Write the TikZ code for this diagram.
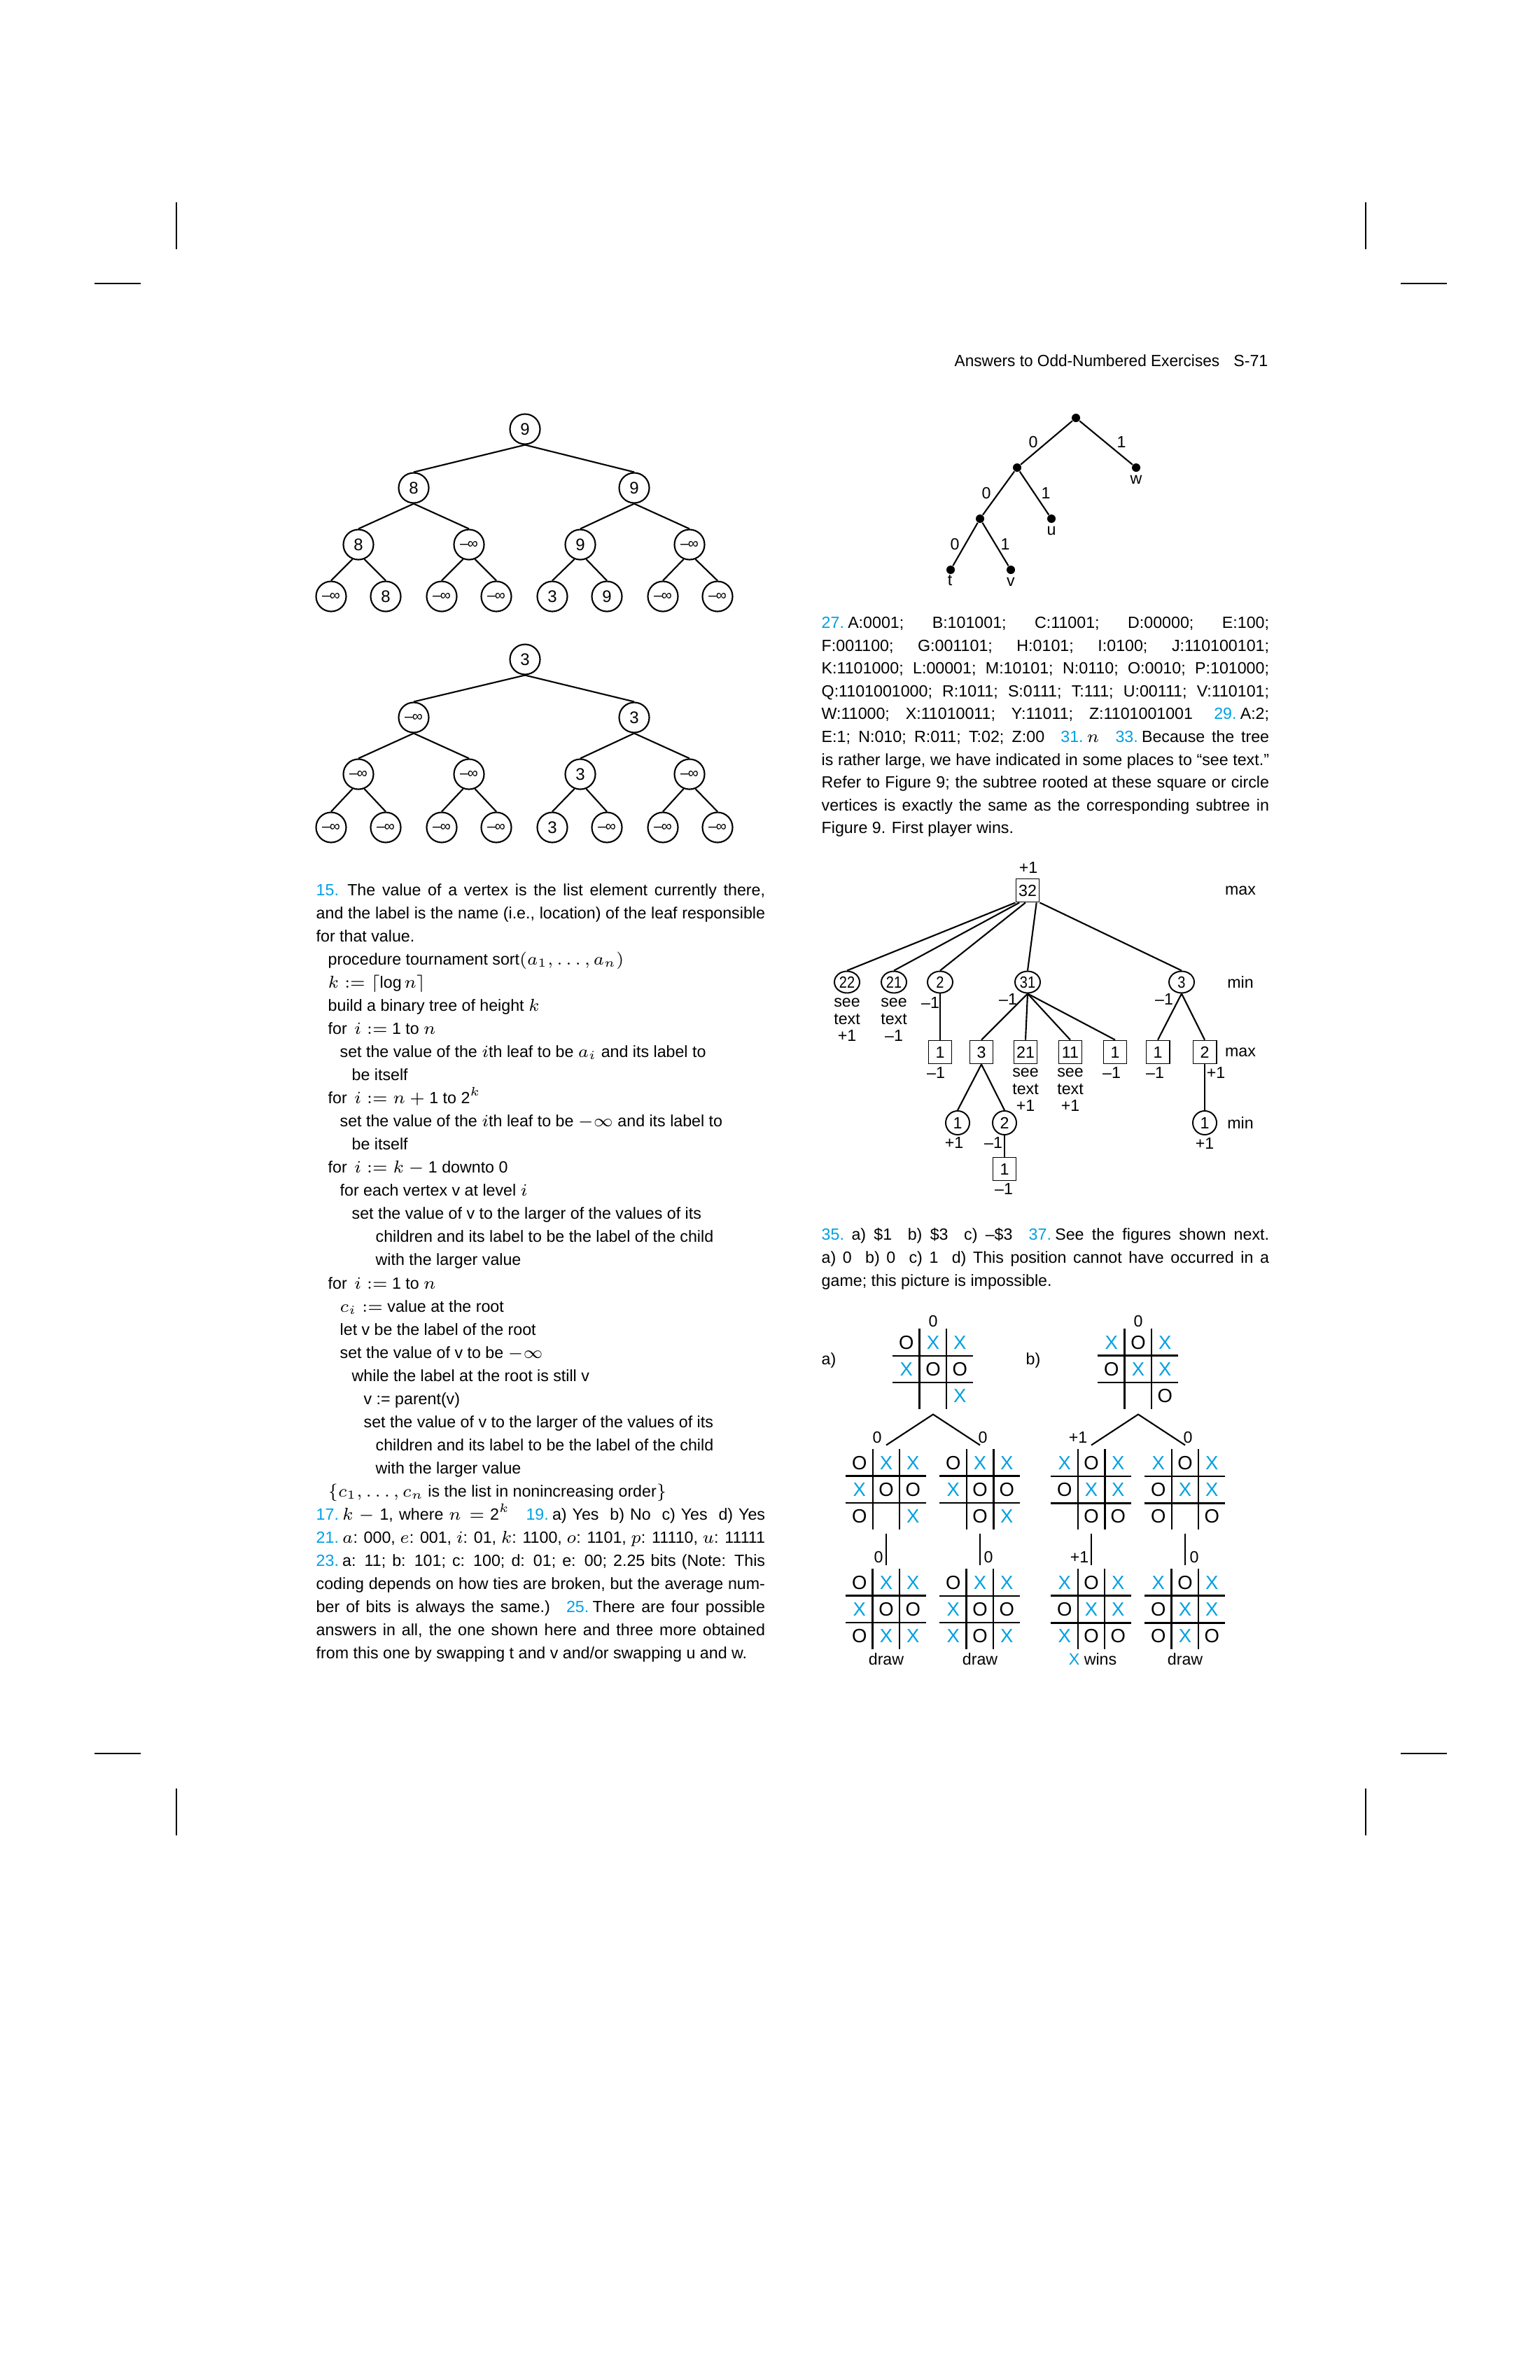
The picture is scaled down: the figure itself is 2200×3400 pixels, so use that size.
\documentclass[tikz,border=0pt]{standalone}
\usepackage{fontspec}
\usepackage{graphicx}
\setmainfont{Liberation Sans}
\usetikzlibrary{calc,shapes.geometric}
\definecolor{exblue}{RGB}{0,160,226}
\newcommand{\txt}{\fontsize{6.6pt}{9.4pt}\selectfont}
\newcommand{\exn}[1]{\textcolor{exblue}{#1}}
\newcommand{\xm}{\textcolor{exblue}{X}}
\newcommand{\ninf}{{\fontsize{6pt}{7pt}\selectfont –\kern-0.04em∞}}
\newcommand{\narrow}[1]{\makebox[0pt]{\scalebox{0.86}[1]{#1}}}
\newcommand{\jlineL}[1]{\makebox[6.41cm][s]{#1}}
\newcommand{\jlineR}[1]{\makebox[6.39cm][s]{#1}}
% board: #1 node, #2 cells, #3 left v, #4 right v, #5 upper h, #6 lower h
\newcommand{\tttboard}[6]{%
  \draw[#3] ($(#1.north west)+(38.3,0)$) -- ++(0,115);
  \draw[#4] ($(#1.north west)+(76.7,0)$) -- ++(0,115);
  \draw[#5] ($(#1.north west)+(0,38.3)$) -- ++(115,0);
  \draw[#6] ($(#1.north west)+(0,76.7)$) -- ++(115,0);
  \foreach \c [count=\i from 0] in {#2} {
    \pgfmathtruncatemacro{\rowi}{\i/3}
    \pgfmathtruncatemacro{\coli}{mod(\i,3)}
    \node[cellmark] (#1-\i) at ($(#1.north west)+(19.2+38.3*\coli,19.2+38.3*\rowi)$) {\c};
  }%
}
\tikzset{
  txtline/.style={anchor=mid west, inner sep=0pt, font=\txt},
  treeline/.style={line width=0.6pt},
  vtx/.style={circle, draw, line width=0.6pt, minimum size=0.43cm, inner sep=0pt, font=\fontsize{6.8pt}{8pt}\selectfont},
  dotnode/.style={circle, fill, minimum size=0.12cm, inner sep=0pt},
  maxbox/.style={rectangle, draw, line width=0.55pt, minimum size=0.33cm, inner sep=0pt, font=\txt},
  minoval/.style={ellipse, draw, line width=0.55pt, minimum width=0.36cm, minimum height=0.31cm, inner sep=0pt, font=\txt},
  minround/.style={circle, draw, line width=0.55pt, minimum size=0.34cm, inner sep=0pt, font=\txt},
  gamelbl/.style={inner sep=0pt, font=\txt},
  seetext/.style={inner sep=0pt, align=center, font=\fontsize{6.6pt}{7pt}\selectfont},
  boardbox/.style={minimum size=1.15cm, inner sep=0pt, outer sep=0pt},
  gridthin/.style={line width=0.5pt},
  gridthick/.style={line width=0.85pt},
  cellmark/.style={inner sep=0pt, font=\fontsize{7.8pt}{9pt}\selectfont},
  cropline/.style={line width=0.4pt}
}
\begin{document}
\begin{tikzpicture}[x=0.01cm,y=-0.01cm]
  \useasboundingbox (0,0) rectangle (2200,3400);
  %crop marks
  \draw[cropline] (252,289) -- (252,356);
  \draw[cropline] (135,405) -- (201,405);
  \draw[cropline] (1951,289) -- (1951,356);
  \draw[cropline] (2001,405) -- (2067,405);
  \draw[cropline] (135,2505) -- (201,2505);
  \draw[cropline] (2001,2505) -- (2067,2505);
  \draw[cropline] (252,2555) -- (252,2622);
  \draw[cropline] (1951,2555) -- (1951,2622);
  %running head
  \node[txtline] (hdr) at (1363,514) {\scalebox{0.975}[1]{Answers to Odd-Numbered Exercises}};
  \node[anchor=mid east, inner sep=0pt, font=\txt] (hdrpg) at (1812,514) {S-71};

  %%%% TOURNAMENT TREE 1
  \node[vtx] (t1r) at (750,613) {9};
  \node[vtx] (t1a) at (591,697) {8};
  \node[vtx] (t1b) at (906,697) {9};
  \node[vtx] (t1aa) at (512,778) {8};
  \node[vtx] (t1ab) at (670,778) {\ninf};
  \node[vtx] (t1ba) at (829,778) {9};
  \node[vtx] (t1bb) at (985,778) {\ninf};
  \node[vtx] (t1l1) at (473,852) {\ninf};
  \node[vtx] (t1l2) at (551,852) {8};
  \node[vtx] (t1l3) at (631,852) {\ninf};
  \node[vtx] (t1l4) at (709,852) {\ninf};
  \node[vtx] (t1l5) at (789,852) {3};
  \node[vtx] (t1l6) at (867,852) {9};
  \node[vtx] (t1l7) at (947,852) {\ninf};
  \node[vtx] (t1l8) at (1025,852) {\ninf};
  \foreach \p/\c in {t1r/t1a,t1r/t1b,t1a/t1aa,t1a/t1ab,t1b/t1ba,t1b/t1bb}
    \draw[treeline] (\p.south) -- (\c.north);
  \foreach \p/\l/\r in {t1aa/t1l1/t1l2,t1ab/t1l3/t1l4,t1ba/t1l5/t1l6,t1bb/t1l7/t1l8} {
    \draw[treeline] (\p.-112) -- (\l.north);
    \draw[treeline] (\p.-68) -- (\r.north);
  }

  %%%% TOURNAMENT TREE 2
  \node[vtx] (t2r) at (750,942) {3};
  \node[vtx] (t2a) at (591,1025) {\ninf};
  \node[vtx] (t2b) at (906,1025) {3};
  \node[vtx] (t2aa) at (512,1106) {\ninf};
  \node[vtx] (t2ab) at (670,1106) {\ninf};
  \node[vtx] (t2ba) at (829,1106) {3};
  \node[vtx] (t2bb) at (985,1106) {\ninf};
  \node[vtx] (t2l1) at (473,1182) {\ninf};
  \node[vtx] (t2l2) at (551,1182) {\ninf};
  \node[vtx] (t2l3) at (631,1182) {\ninf};
  \node[vtx] (t2l4) at (709,1182) {\ninf};
  \node[vtx] (t2l5) at (789,1182) {3};
  \node[vtx] (t2l6) at (867,1182) {\ninf};
  \node[vtx] (t2l7) at (947,1182) {\ninf};
  \node[vtx] (t2l8) at (1025,1182) {\ninf};
  \foreach \p/\c in {t2r/t2a,t2r/t2b,t2a/t2aa,t2a/t2ab,t2b/t2ba,t2b/t2bb}
    \draw[treeline] (\p.south) -- (\c.north);
  \foreach \p/\l/\r in {t2aa/t2l1/t2l2,t2ab/t2l3/t2l4,t2ba/t2l5/t2l6,t2bb/t2l7/t2l8} {
    \draw[treeline] (\p.-112) -- (\l.north);
    \draw[treeline] (\p.-68) -- (\r.north);
  }

  %%%% PREFIX CODE TREE
  \node[dotnode] (pr) at (1537,597) {};
  \node[dotnode] (p0) at (1453,668) {};
  \node[dotnode] (pw) at (1623,668) {};
  \node[dotnode] (p00) at (1400,741) {};
  \node[dotnode] (pu) at (1502,741) {};
  \node[dotnode] (pt) at (1358,814) {};
  \node[dotnode] (pv) at (1444,814) {};
  \foreach \p/\c in {pr/p0,pr/pw,p0/p00,p0/pu,p00/pt,p00/pv}
    \draw[treeline] (\p) -- (\c);
  \node[gamelbl] (b1) at (1476,632) {0};
  \node[gamelbl] (b2) at (1602,632) {1};
  \node[gamelbl] (b3) at (1409,705) {0};
  \node[gamelbl] (b4) at (1494,705) {1};
  \node[gamelbl] (b5) at (1364,778) {0};
  \node[gamelbl] (b6) at (1436,778) {1};
  \node[gamelbl] (lt) at (1357,829) {t};
  \node[gamelbl] (lv) at (1444,831) {v};
  \node[gamelbl] (lu) at (1502,758) {u};
  \node[gamelbl] (lw) at (1623,685) {w};

  %%%% LEFT COLUMN TEXT
  \node[txtline] (c0) at (451,1270) {\jlineL{\exn{15.}\kern3.5pt The value of a vertex is the list element currently there,}};
  \node[txtline] (c1) at (451,1303) {\jlineL{and the label is the name (i.e., location) of the leaf responsible}};
  \node[txtline] (c2) at (451,1336) {for that value.};
  \node[txtline] (c3) at (468,1369) {procedure tournament sort$(a_1, \ldots, a_n)$};
  \node[txtline] (c4) at (468,1402) {$k := \lceil$log\,$n\rceil$};
  \node[txtline] (c5) at (468,1435) {build a binary tree of height $k$};
  \node[txtline] (c6) at (468,1468) {for\, $i :=$ 1 to $n$};
  \node[txtline] (c7) at (485,1501) {set the value of the $i$th leaf to be $a_i$ and its label to};
  \node[txtline] (c8) at (502,1534) {be itself};
  \node[txtline] (c9) at (468,1567) {for\, $i := n +{}$1 to 2$^k$};
  \node[txtline] (c10) at (485,1600) {set the value of the $i$th leaf to be $-\infty$ and its label to};
  \node[txtline] (c11) at (502,1633) {be itself};
  \node[txtline] (c12) at (468,1666) {for\, $i := k -{}$1 downto 0};
  \node[txtline] (c13) at (485,1699) {for each vertex v at level $i$};
  \node[txtline] (c14) at (502,1732) {set the value of v to the larger of the values of its};
  \node[txtline] (c15) at (536,1765) {children and its label to be the label of the child};
  \node[txtline] (c16) at (536,1798) {with the larger value};
  \node[txtline] (c17) at (468,1832) {for\, $i :=$ 1 to $n$};
  \node[txtline] (c18) at (485,1865) {$c_i :=$ value at the root};
  \node[txtline] (c19) at (485,1898) {let v be the label of the root};
  \node[txtline] (c20) at (485,1931) {set the value of v to be $-\infty$};
  \node[txtline] (c21) at (502,1964) {while the label at the root is still v};
  \node[txtline] (c22) at (519,1997) {v := parent(v)};
  \node[txtline] (c23) at (519,2030) {set the value of v to the larger of the values of its};
  \node[txtline] (c24) at (536,2063) {children and its label to be the label of the child};
  \node[txtline] (c25) at (536,2096) {with the larger value};
  \node[txtline] (c26) at (468,2129) {$\{c_1, \ldots, c_n$ is the list in nonincreasing order$\}$};
  \node[txtline] (c27) at (451,2162) {\jlineL{\exn{17.}\kern1.5pt$k -{}$1, where $n =$ 2$^k$\quad \exn{19.}\kern1.5pt a) Yes \ b) No \ c) Yes \ d) Yes}};
  \node[txtline] (c28) at (451,2195) {\jlineL{\exn{21.}\kern1.5pt$a$: 000, $e$: 001, $i$: 01, $k$: 1100, $o$: 1101, $p$: 11110, $u$: 11111}};
  \node[txtline] (c29) at (451,2228) {\jlineL{\exn{23.}\kern1.5pt a: 11; b: 101; c: 100; d: 01; e: 00; 2.25 bits (Note: This}};
  \node[txtline] (c30) at (451,2261) {\jlineL{coding depends on how ties are broken, but the average num-}};
  \node[txtline] (c31) at (451,2294) {\jlineL{ber of bits is always the same.)\quad \exn{25.}\kern1.5pt There are four possible}};
  \node[txtline] (c32) at (451,2327) {\jlineL{answers in all, the one shown here and three more obtained}};
  \node[txtline] (c33) at (451,2360) {from this one by swapping t and v and/or swapping u and w.};

  %%%% RIGHT COLUMN TEXT
  \node[txtline] (r0) at (1173,888) {\jlineR{\exn{27.}\kern1.5pt A:0001; B:101001; C:11001; D:00000; E:100;}};
  \node[txtline] (r1) at (1173,921) {\jlineR{F:001100; G:001101; H:0101; I:0100; J:110100101;}};
  \node[txtline] (r2) at (1173,953) {\jlineR{K:1101000; L:00001; M:10101; N:0110; O:0010; P:101000;}};
  \node[txtline] (r3) at (1173,986) {\jlineR{Q:1101001000; R:1011; S:0111; T:111; U:00111; V:110101;}};
  \node[txtline] (r4) at (1173,1018) {\jlineR{W:11000; X:11010011; Y:11011; Z:1101001001\hspace{1.3em}\exn{29.}\kern1.5pt A:2;}};
  \node[txtline] (r5) at (1173,1051) {\jlineR{E:1; N:010; R:011; T:02; Z:00\quad \exn{31.}\kern1.5pt$n$\quad \exn{33.}\kern1.5pt Because the tree}};
  \node[txtline] (r6) at (1173,1084) {\jlineR{is rather large, we have indicated in some places to “see text.”}};
  \node[txtline] (r7) at (1173,1116) {\jlineR{Refer to Figure 9; the subtree rooted at these square or circle}};
  \node[txtline] (r8) at (1173,1149) {\jlineR{vertices is exactly the same as the corresponding subtree in}};
  \node[txtline] (r9) at (1173,1181) {Figure 9. First player wins.};

  %%%% GAME TREE
  \node[maxbox] (g32) at (1468,1272) {32};
  \node[gamelbl] (g32v) at (1469,1240) {+1};
  \node[minoval] (g22) at (1210,1403) {\narrow{22}};
  \node[minoval] (g21) at (1277,1403) {\narrow{21}};
  \node[minoval] (g2) at (1343,1403) {\narrow{2}};
  \node[minoval] (g31) at (1468,1403) {\narrow{31}};
  \node[minoval] (g3) at (1688,1403) {\narrow{3}};
  \node[maxbox] (g2a) at (1343,1503) {1};
  \node[maxbox] (g31a) at (1402,1503) {3};
  \node[maxbox] (g31b) at (1465,1503) {21};
  \node[maxbox] (g31c) at (1529,1503) {11};
  \node[maxbox] (g31d) at (1593,1503) {1};
  \node[maxbox] (g3a) at (1654,1503) {1};
  \node[maxbox] (g3b) at (1721,1503) {2};
  \node[minround] (g31aa) at (1368,1604) {1};
  \node[minround] (g31ab) at (1435,1604) {2};
  \node[minround] (g3ba) at (1721,1604) {1};
  \node[maxbox] (g31aba) at (1435,1670) {1};
  \draw[treeline] (g32.south west) -- (g22.north);
  \draw[treeline] (g32.-124) -- (g21.north);
  \draw[treeline] (g32.-100) -- (g2.north);
  \draw[treeline] (g32.-54) -- (g31.north);
  \draw[treeline] (g32.south east) -- (g3.north);
  \foreach \p/\c in {g2/g2a,g31/g31a,g31/g31b,g31/g31c,g31/g31d,g3/g3a,g3/g3b,g31a/g31aa,g31a/g31ab,g31ab/g31aba,g3b/g3ba}
    \draw[treeline] (\p.south) -- (\c.north);
  %levels
  \node[gamelbl] (lmax1) at (1772,1272) {max};
  \node[gamelbl] (lmin1) at (1772,1403) {min};
  \node[gamelbl] (lmax2) at (1772,1503) {max};
  \node[gamelbl] (lmin2) at (1772,1604) {min};
  %values
  \node[seetext] (s22) at (1210,1457) {see\\text\\+1};
  \node[seetext] (s21) at (1277,1457) {see\\text\\–1};
  \node[gamelbl] (v2) at (1329,1432) {–1};
  \node[gamelbl] (v31) at (1440,1427) {–1};
  \node[gamelbl] (v3) at (1663,1427) {–1};
  \node[gamelbl] (v2a) at (1337,1532) {–1};
  \node[seetext] (s31b) at (1465,1557) {see\\text\\+1};
  \node[seetext] (s31c) at (1529,1557) {see\\text\\+1};
  \node[gamelbl] (v31d) at (1588,1532) {–1};
  \node[gamelbl] (v3a) at (1650,1532) {–1};
  \node[gamelbl] (v3b) at (1737,1532) {+1};
  \node[gamelbl] (v31aa) at (1363,1632) {+1};
  \node[gamelbl] (v31ab) at (1419,1632) {–1};
  \node[gamelbl] (v3ba) at (1721,1633) {+1};
  \node[gamelbl] (v31aba) at (1434,1698) {–1};

  %%%% TEXT 35, 37
  \node[txtline] (q0) at (1173,1762) {\jlineR{\exn{35.}\kern3pt a) \$1 \ b) \$3 \ c) –\$3\quad \exn{37.}\kern1.5pt See the figures shown next.}};
  \node[txtline] (q1) at (1173,1795) {\jlineR{a) 0 \ b) 0 \ c) 1 \ d) This position cannot have occurred in a}};
  \node[txtline] (q2) at (1173,1828) {game; this picture is impossible.};

  %%%% TIC-TAC-TOE
  \node[boardbox] (bta) at (1333,1956) {};
  \node[boardbox] (btb) at (1626,1956) {};
  \node[boardbox] (ba1) at (1266,2128) {};
  \node[boardbox] (ba2) at (1400,2128) {};
  \node[boardbox] (bb1) at (1559,2128) {};
  \node[boardbox] (bb2) at (1693,2128) {};
  \node[boardbox] (ba3) at (1266,2299) {};
  \node[boardbox] (ba4) at (1400,2299) {};
  \node[boardbox] (bb3) at (1559,2299) {};
  \node[boardbox] (bb4) at (1693,2299) {};
  \tttboard{bta}{O,\xm,\xm,\xm,O,O,{},{},\xm}{gridthick}{gridthin}{gridthin}{gridthin}
  \tttboard{btb}{\xm,O,\xm,O,\xm,\xm,{},{},O}{gridthick}{gridthin}{gridthick}{gridthin}
  \tttboard{ba1}{O,\xm,\xm,\xm,O,O,O,{},\xm}{gridthin}{gridthin}{gridthick}{gridthin}
  \tttboard{ba2}{O,\xm,\xm,\xm,O,O,{},O,\xm}{gridthin}{gridthick}{gridthick}{gridthin}
  \tttboard{bb1}{\xm,O,\xm,O,\xm,\xm,{},O,O}{gridthin}{gridthick}{gridthin}{gridthick}
  \tttboard{bb2}{\xm,O,\xm,O,\xm,\xm,O,{},O}{gridthin}{gridthin}{gridthin}{gridthick}
  \tttboard{ba3}{O,\xm,\xm,\xm,O,O,O,\xm,\xm}{gridthick}{gridthin}{gridthick}{gridthin}
  \tttboard{ba4}{O,\xm,\xm,\xm,O,O,\xm,O,\xm}{gridthick}{gridthin}{gridthin}{gridthin}
  \tttboard{bb3}{\xm,O,\xm,O,\xm,\xm,\xm,O,O}{gridthin}{gridthin}{gridthick}{gridthick}
  \tttboard{bb4}{\xm,O,\xm,O,\xm,\xm,O,\xm,O}{gridthick}{gridthin}{gridthick}{gridthick}
  \node[gamelbl] (lbla) at (1184,1943) {a)};
  \node[gamelbl] (lblb) at (1476,1943) {b)};
  \node[gamelbl] (vta) at (1333,1887) {0};
  \node[gamelbl] (vtb) at (1626,1887) {0};
  %branches
  \draw[treeline] ($(ba1.north)+(0,-6)$) -- ($(bta.south)+(0,7)$) -- ($(ba2.north)+(0,-6)$);
  \draw[treeline] ($(bb1.north)+(0,-6)$) -- ($(btb.south)+(0,7)$) -- ($(bb2.north)+(0,-6)$);
  \node[gamelbl] (va1) at (1253,2053) {0};
  \node[gamelbl] (va2) at (1404,2053) {0};
  \node[gamelbl] (vb1) at (1540,2053) {+1};
  \node[gamelbl] (vb2) at (1697,2053) {0};
  \foreach \p/\c in {ba1/ba3,ba2/ba4,bb1/bb3,bb2/bb4}
    \draw[treeline] ($(\p.south)+(0,5)$) -- ($(\c.north)+(0,-5)$);
  \node[gamelbl] (va3) at (1255,2224) {0};
  \node[gamelbl] (va4) at (1412,2224) {0};
  \node[gamelbl] (vb3) at (1542,2224) {+1};
  \node[gamelbl] (vb4) at (1706,2224) {0};
  \node[gamelbl] (ra3) at (1266,2370) {draw};
  \node[gamelbl] (ra4) at (1400,2370) {draw};
  \node[gamelbl] (rb3) at (1561,2370) {\xm\ wins};
  \node[gamelbl] (rb4) at (1693,2370) {draw};
\end{tikzpicture}
\end{document}
